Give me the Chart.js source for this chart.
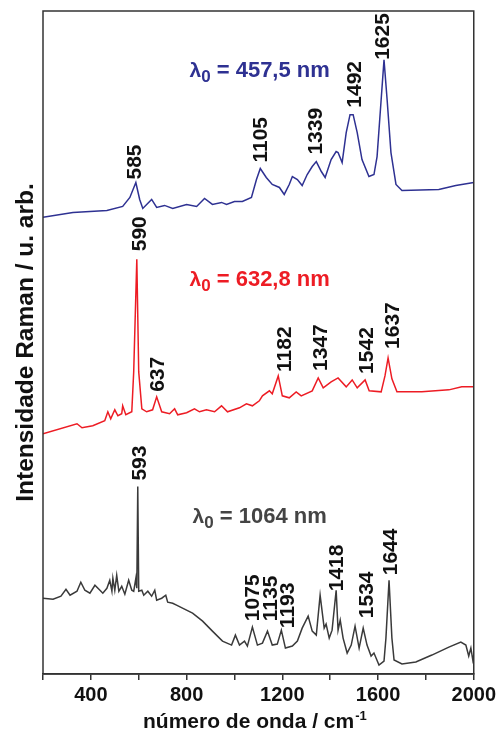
<!DOCTYPE html>
<html>
<head>
<meta charset="utf-8">
<script src="https://cdn.jsdelivr.net/npm/chart.js@4.4.0/dist/chart.umd.min.js"></script>
<style>
  html, body { margin: 0; padding: 0; background: #fff; }
  #wrap { width: 499px; height: 737px; }
</style>
</head>
<body>
<div id="wrap"><canvas id="chart"></canvas></div>
<script>
// wavenumber (cm-1) and intensity (arb. units, spectra stacked with offsets)
const blueX = [200, 325, 467, 533, 563, 588, 604, 617, 654, 675, 708, 742, 800, 842, 875, 908, 946, 967, 1000, 1033,
  1071, 1092, 1108, 1133, 1158, 1188, 1208, 1229, 1242, 1263, 1283, 1304, 1325, 1342, 1363, 1379, 1404, 1425, 1433, 1450,
  1467, 1483, 1496, 1513, 1533, 1562, 1583, 1596, 1613, 1625, 1638, 1654, 1675, 1700, 1854, 1925, 2000];
const blueY = [458, 463, 465, 469, 478, 493, 476, 467, 476, 468, 470, 467, 471, 469, 477, 471, 473, 471, 474, 474,
  478, 496, 507, 498, 491, 488, 481, 491, 499, 496, 490, 501, 509, 514, 504, 498, 516, 524, 523, 513,
  543, 561, 561, 543, 516, 499, 501, 519, 576, 616, 576, 523, 491, 485, 486, 490, 493];

const redX = [200, 342, 363, 408, 458, 471, 483, 500, 513, 529, 533, 546, 571, 579, 592, 600, 613, 633, 658, 675,
  696, 729, 750, 763, 800, 833, 854, 883, 917, 946, 971, 1021, 1050, 1075, 1104, 1117, 1146, 1158, 1183, 1200,
  1229, 1258, 1279, 1325, 1350, 1371, 1404, 1433, 1467, 1492, 1513, 1546, 1563, 1613, 1629, 1642, 1658, 1679, 1783, 1896,
  1950, 2000];
const redY = [241, 251, 247, 249, 254, 263, 256, 265, 259, 261, 269, 260, 263, 303, 416, 303, 266, 263, 265, 278,
  263, 261, 266, 260, 262, 266, 263, 265, 263, 269, 263, 267, 271, 269, 274, 279, 284, 281, 299, 279,
  277, 283, 279, 284, 297, 287, 293, 297, 288, 295, 287, 295, 284, 283, 299, 317, 296, 283, 283, 285,
  288, 288];

const blackX = [200, 242, 275, 296, 313, 342, 358, 375, 396, 417, 438, 450, 467, 479, 488, 492, 500, 508, 517, 529,
  542, 558, 571, 579, 588, 592, 596, 600, 613, 621, 638, 654, 667, 675, 696, 713, 721, 742, 758, 783,
  825, 867, 908, 950, 988, 1004, 1021, 1042, 1054, 1075, 1096, 1117, 1138, 1158, 1179, 1196, 1213, 1242, 1263, 1283,
  1308, 1325, 1342, 1358, 1375, 1383, 1396, 1408, 1425, 1433, 1442, 1454, 1471, 1488, 1504, 1521, 1538, 1554, 1571, 1583,
  1604, 1625, 1633, 1646, 1658, 1667, 1700, 1758, 1825, 1896, 1946, 1967, 1979, 1988, 1996, 2000];
const blackY = [76, 75, 78, 85, 79, 83, 92, 84, 81, 89, 84, 81, 86, 94, 83, 96, 84, 99, 83, 88,
  80, 94, 84, 83, 96, 86, 188, 83, 84, 79, 83, 78, 84, 74, 76, 79, 72, 71, 69, 66,
  61, 53, 43, 33, 29, 39, 29, 33, 28, 47, 29, 31, 43, 29, 30, 44, 26, 28, 33, 46,
  58, 43, 39, 79, 46, 50, 36, 44, 84, 44, 54, 36, 21, 29, 48, 26, 46, 29, 18, 21,
  9, 13, 36, 94, 36, 14, 10, 12, 19, 27, 32, 29, 18, 26, 14, 19];

// peak labels: text and anchor (bottom of the rotated text)
const bluePeaks = ['585', '1105', '1339', '1492', '1625'];
const bluePeakX = [583, 1108, 1338, 1500, 1617];
const bluePeakY = [496, 513, 521, 568, 616];
const redPeaks = ['590', '637', '1182', '1347', '1542', '1637'];
const redPeakX = [600, 679, 1208, 1358, 1550, 1658];
const redPeakY = [424, 283, 303, 304, 301, 326];
const blackPeaks = ['593', '1075', '1135', '1193', '1418', '1534', '1644'];
const blackPeakX = [600, 1075, 1150, 1221, 1425, 1550, 1650];
const blackPeakY = [194, 53, 53, 46, 83, 56, 99];

// excitation wavelength labels
const laserNames = ['457,5 nm', '632,8 nm', '1064 nm'];
const laserX = [812, 812, 825];
const laserY = [599, 389, 151];

const colors = ['#2e3192', '#ed1c24', '#3a3a3a'];
const labelColors = ['#2e3192', '#ed1c24', '#444444'];

const toPoints = (xs, ys) => xs.map((v, i) => ({ x: v, y: ys[i] }));

const peakGroups = [
  { text: bluePeaks, x: bluePeakX, y: bluePeakY },
  { text: redPeaks, x: redPeakX, y: redPeakY },
  { text: blackPeaks, x: blackPeakX, y: blackPeakY }
];

const FONT = '"Liberation Sans", Arial, sans-serif';

const annotate = {
  id: 'annotate',
  afterDraw(chart) {
    const { ctx, chartArea: a, scales: { x, y } } = chart;
    ctx.save();
    ctx.strokeStyle = '#333';
    ctx.lineWidth = 1.5;
    ctx.strokeRect(a.left, a.top, a.right - a.left, a.bottom - a.top);

    // peak labels
    ctx.fillStyle = '#111';
    ctx.font = 'bold 21px ' + FONT;
    ctx.textAlign = 'left';
    ctx.textBaseline = 'middle';
    peakGroups.forEach(g => {
      g.text.forEach((t, i) => {
        ctx.save();
        ctx.translate(x.getPixelForValue(g.x[i]), y.getPixelForValue(g.y[i]));
        ctx.rotate(-Math.PI / 2);
        ctx.fillText(t, 0, 1);
        ctx.restore();
      });
    });

    // lambda_0 labels
    ctx.textBaseline = 'alphabetic';
    laserNames.forEach((name, i) => {
      let px = x.getPixelForValue(laserX[i]);
      const py = y.getPixelForValue(laserY[i]);
      ctx.fillStyle = labelColors[i];
      ctx.font = 'bold 21px ' + FONT;
      ctx.fillText('\u03bb', px, py);
      px += ctx.measureText('\u03bb').width;
      ctx.font = 'bold 17px ' + FONT;
      ctx.fillText('0', px, py + 5);
      px += ctx.measureText('0').width;
      ctx.font = 'bold 22px ' + FONT;
      ctx.fillText(' = ' + name, px, py);
    });

    // x axis title with superscript
    ctx.fillStyle = '#111';
    ctx.font = 'bold 21px ' + FONT;
    const main = 'número de onda / cm';
    const w1 = ctx.measureText(main).width;
    ctx.font = 'bold 13px ' + FONT;
    const w2 = ctx.measureText('-1').width;
    let tx = (a.left + a.right) / 2 - 4 - (w1 + w2) / 2;
    ctx.font = 'bold 21px ' + FONT;
    ctx.fillText(main, tx, a.bottom + 54);
    ctx.font = 'bold 13px ' + FONT;
    ctx.fillText('-1', tx + w1 + 1, a.bottom + 46);

    // y axis title
    ctx.save();
    ctx.translate(33, (a.top + a.bottom) / 2);
    ctx.rotate(-Math.PI / 2);
    ctx.textAlign = 'center';
    ctx.font = 'bold 24.5px ' + FONT;
    ctx.fillText('Intensidade Raman / u. arb.', 0, 0);
    ctx.restore();

    ctx.restore();
  }
};

new Chart(document.getElementById('chart'), {
  type: 'line',
  data: {
    datasets: [
      { label: '457,5 nm', data: toPoints(blueX, blueY), borderColor: colors[0] },
      { label: '632,8 nm', data: toPoints(redX, redY), borderColor: colors[1] },
      { label: '1064 nm', data: toPoints(blackX, blackY), borderColor: colors[2] }
    ]
  },
  options: {
    responsive: true,
    maintainAspectRatio: false,
    animation: false,
    layout: { padding: { top: 11, right: 24, left: 43, bottom: 27 } },
    elements: {
      line: { borderWidth: 1.5, tension: 0 },
      point: { radius: 0 }
    },
    plugins: { legend: { display: false }, tooltip: { enabled: false } },
    scales: {
      x: {
        type: 'linear',
        min: 200,
        max: 2000,
        grid: { drawOnChartArea: false, drawTicks: true, tickLength: 6, color: '#333', lineWidth: 1.5 },
        border: { color: '#333', width: 1.5 },
        ticks: {
          stepSize: 200,
          autoSkip: false,
          maxRotation: 0,
          padding: 3,
          color: '#111',
          font: { family: FONT, size: 20, weight: 'bold', lineHeight: 1.2 },
          callback: v => (v % 400 === 0 ? v : '')
        },
        title: { display: false }
      },
      y: {
        display: false,
        min: 0,
        max: 665
      }
    }
  },
  plugins: [annotate]
});
</script>
</body>
</html>
